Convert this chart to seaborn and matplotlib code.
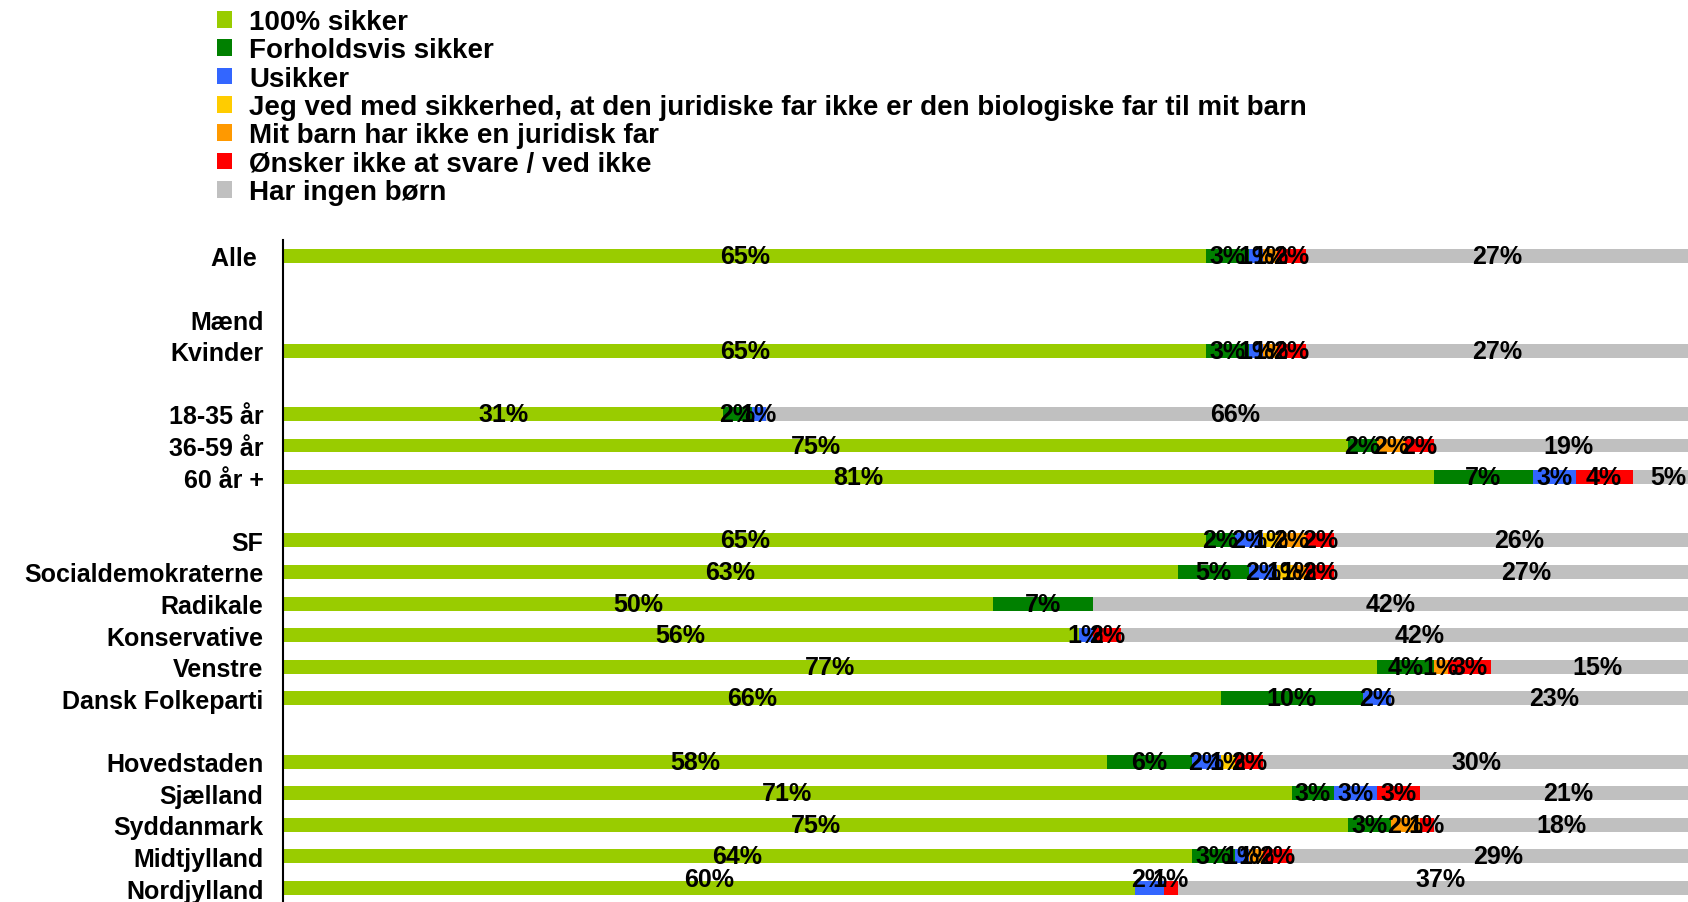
import numpy as np
import pandas as pd
import matplotlib
matplotlib.use("Agg")
import matplotlib.pyplot as plt
from matplotlib.patches import Patch
import seaborn as sns

sns.set_style("white")
plt.rcParams['font.family'] = ['Liberation Sans', 'DejaVu Sans']
plt.rcParams['font.weight'] = 'bold'
plt.rcParams['text.color'] = 'black'
plt.rcParams['ytick.color'] = 'black'

# rows (blank strings are empty spacer rows)
groups = ["Alle ", " ", "Mænd", "Kvinder", "  ", "18-35 år", "36-59 år", "60 år +", "   ",
          "SF", "Socialdemokraterne", "Radikale", "Konservative", "Venstre", "Dansk Folkeparti",
          "    ", "Hovedstaden", "Sjælland", "Syddanmark", "Midtjylland", "Nordjylland"]

answers = ["100% sikker", "Forholdsvis sikker", "Usikker",
           "Jeg ved med sikkerhed, at den juridiske far ikke er den biologiske far til mit barn",
           "Mit barn har ikke en juridisk far", "Ønsker ikke at svare / ved ikke", "Har ingen børn"]
colors = ["#99CC00", "#008000", "#3366FF", "#FFCC00", "#FF9900", "#FF0000", "#C0C0C0"]

# values in percent, one list per answer, same order as groups
sikker_100  = [65, 0, 0, 65, 0, 31, 75, 81, 0, 65, 63, 50, 56, 77, 66, 0, 58, 71, 75, 64, 60]
forholdsvis = [3, 0, 0, 3, 0, 2, 2, 7, 0, 2, 5, 7, 0, 4, 10, 0, 6, 3, 3, 3, 0]
usikker     = [1, 0, 0, 1, 0, 1, 0, 3, 0, 2, 2, 0, 1, 0, 2, 0, 2, 3, 0, 1, 2]
ikke_bio    = [0, 0, 0, 0, 0, 0, 0, 0, 0, 1, 1, 0, 0, 0, 0, 0, 1, 0, 0, 0, 0]
ingen_far   = [1, 0, 0, 1, 0, 0, 2, 0, 0, 2, 1, 0, 0, 1, 0, 0, 0, 0, 2, 1, 0]
ved_ikke    = [2, 0, 0, 2, 0, 0, 2, 4, 0, 2, 2, 0, 2, 3, 0, 0, 2, 3, 1, 2, 1]
ingen_born  = [27, 0, 0, 27, 0, 66, 19, 5, 0, 26, 27, 42, 42, 15, 23, 0, 30, 21, 18, 29, 37]

series = [sikker_100, forholdsvis, usikker, ikke_bio, ingen_far, ved_ikke, ingen_born]

df = pd.DataFrame(np.array(series).T, columns=answers)
df.insert(0, "group", groups)
cum = df[answers].cumsum(axis=1)
cum.insert(0, "group", groups)

fig = plt.figure(figsize=(16.88, 9.03), dpi=100)
ax = fig.add_axes([283 / 1688, -0.002, 1 - 283 / 1688, 0.735])

# stacked bars: draw cumulative totals from the outermost segment inwards
for ans, col in reversed(list(zip(answers, colors))):
    sns.barplot(data=cum, x=ans, y="group", order=groups, color=col, width=0.44,
                saturation=1, linewidth=0, errorbar=None, ax=ax)

# segment labels
for i, g in enumerate(groups):
    left = 0
    for ans in answers:
        v = df.loc[i, ans]
        if v > 0:
            ypos = min(i, len(groups) - 1.3)
            ax.text(left + v / 2, ypos, f"{v:.0f}%", ha="center", va="center",
                    fontsize=18, fontweight="bold", color="black")
        left += v

ax.set_xlim(0, 98.9)
ax.set_ylim(len(groups) - 0.5, -0.5)
ax.set_xticks([])
ax.set_xlabel("")
ax.set_ylabel("")
ax.set_yticks(np.arange(-0.5, len(groups), 1), labels=[""] * (len(groups) + 1))
ax.set_yticks(np.arange(len(groups)), labels=groups, minor=True)
ax.tick_params(axis="y", which="major", length=6, width=1.5, color="black", direction="out")
ax.tick_params(axis="y", which="minor", length=0, pad=14, labelsize=18)
for lab in ax.get_yticklabels(minor=True):
    lab.set_fontweight("bold")
sns.despine(ax=ax, top=True, right=True, bottom=True)
ax.spines["left"].set_linewidth(1.5)
ax.spines["left"].set_color("black")

handles = [Patch(facecolor=c, edgecolor="none", label=a) for a, c in zip(answers, colors)]
fig.legend(handles=handles, loc="upper left", bbox_to_anchor=(217 / 1688, 1 - 10 / 903),
           frameon=False, prop={"weight": "bold", "size": 20},
           handlelength=0.55, handleheight=0.55, handletextpad=0.6,
           labelspacing=0.085, borderpad=0, borderaxespad=0)

fig.savefig("out.png", dpi=100)
